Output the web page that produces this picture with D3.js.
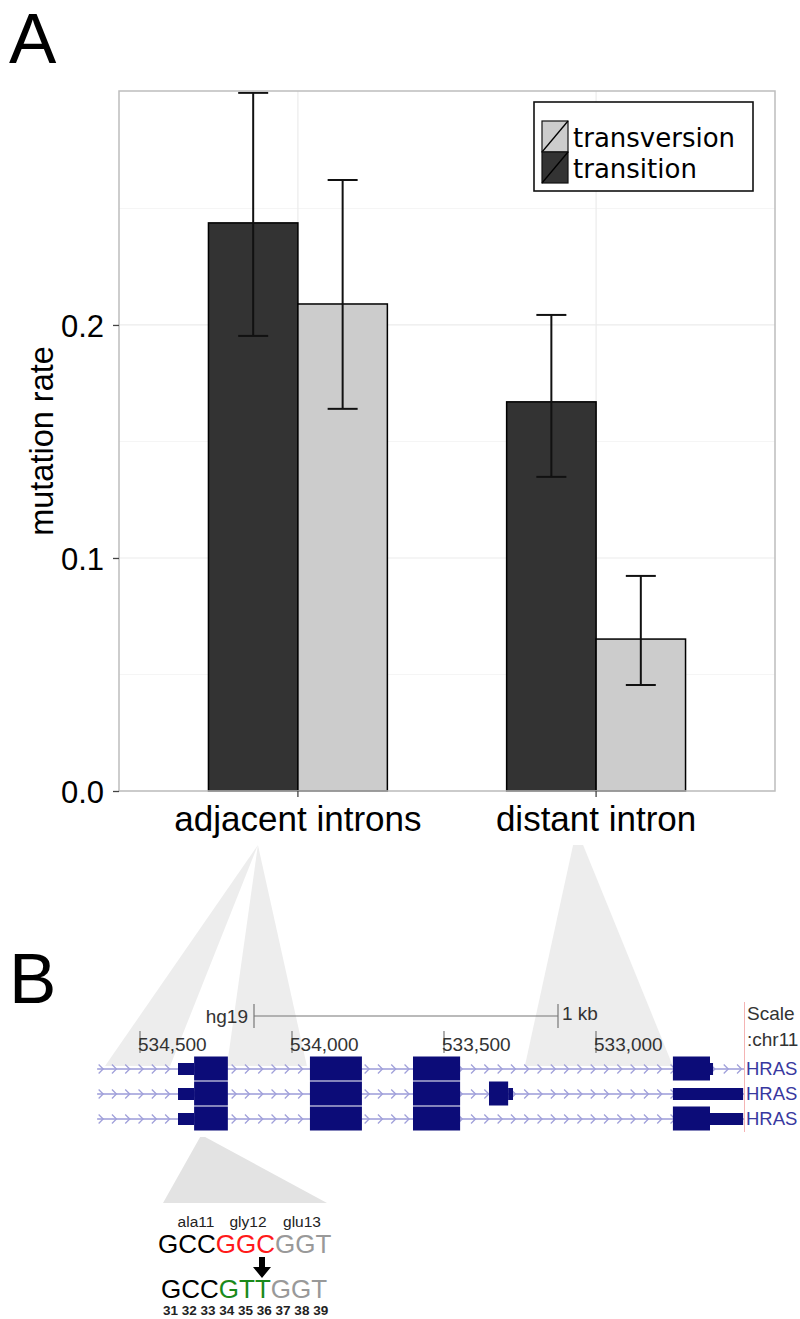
<!DOCTYPE html>
<html lang="en">
<head>
    <meta charset="UTF-8">
    <title>mutation rate</title>
    <script src="https://d3js.org/d3.v7.min.js"></script>
    <style>
        body { margin: 0; background: #fff; }
        text { font-family: "Liberation Sans", Arial, sans-serif; }
    </style>
</head>
<body>
<svg id="chart" width="800" height="1319"></svg>
<script>
    // panel A data
    const categories = ["adjacent introns", "distant intron"];
    const types = ["transition", "transversion"];
    const rate = {
        "transition":   [0.2438, 0.1670],
        "transversion": [0.2090, 0.0652]
    };
    const errLow = {
        "transition":   [0.1953, 0.1348],
        "transversion": [0.1640, 0.0455]
    };
    const errHigh = {
        "transition":   [0.2996, 0.2043],
        "transversion": [0.2622, 0.0923]
    };
    const yTicks = [0.0, 0.1, 0.2];
    const yMinor = [0.05, 0.15, 0.25];
    const legendOrder = ["transversion", "transition"];

    // panel B data (hg19 chr11, reversed strand view)
    const posTicks = [534500, 534000, 533500, 533000];
    const trackRange = [534641, 532513];
    // [start, end, thick]
    const transcripts = [
        [[534375, 534322, 0], [534322, 534211, 1], [533941, 533770, 1], [533602, 533447, 1],
         [532747, 532625, 1], [532625, 532615, 0]],
        [[534375, 534322, 0], [534322, 534211, 1], [533941, 533770, 1], [533602, 533447, 1],
         [533352, 533289, 1], [533289, 533273, 0], [532747, 532516, 0]],
        [[534375, 534322, 0], [534322, 534211, 1], [533941, 533770, 1], [533602, 533447, 1],
         [532747, 532625, 1], [532625, 532516, 0]]
    ];
    const trackNames = ["HRAS", "HRAS", "HRAS"];
    const scaleBar = [534125, 533125];
    // intron regions each bar group points to
    const zooms = [
        {cat: "adjacent introns", dx: -40, range: [534615, 534401]},
        {cat: "adjacent introns", dx: -40, range: [534214, 533951]},
        {cat: "distant intron", dx: -18, range: [533234, 532747]}
    ];

    // codon detail
    const codons = ["ala11", "gly12", "glu13"];
    const refSeq = [["GCC", "#000"], ["GGC", "#ff1a1a"], ["GGT", "#999"]];
    const mutSeq = [["GCC", "#000"], ["GTT", "#1a8a1a"], ["GGT", "#999"]];
    const positions = [31, 32, 33, 34, 35, 36, 37, 38, 39];

    const svg = d3.select("#chart");
    const fill = {"transition": "#333333", "transversion": "#cccccc"};

    // ---------- panel A ----------
    const pLeft = 119, pRight = 775, pTop = 91, pBottom = 791;
    const y = d3.scaleLinear().domain([0, 0.3004]).range([pBottom, pTop]);
    const x = d3.scaleBand().domain(categories).range([pLeft, pRight])
        .paddingInner(0.4).paddingOuter(0.3);
    const xs = d3.scaleBand().domain(types).range([0, x.bandwidth()]);

    const grid = svg.append("g");
    grid.selectAll(".minor").data(yMinor).join("line")
        .attr("x1", pLeft).attr("x2", pRight)
        .attr("y1", d => y(d)).attr("y2", d => y(d))
        .attr("stroke", "#f5f5f5").attr("stroke-width", 1);
    grid.selectAll(".major").data(yTicks).join("line")
        .attr("x1", pLeft).attr("x2", pRight)
        .attr("y1", d => y(d)).attr("y2", d => y(d))
        .attr("stroke", "#ebebeb").attr("stroke-width", 1.2);
    grid.selectAll(".vmajor").data(categories).join("line")
        .attr("x1", d => x(d) + x.bandwidth() / 2).attr("x2", d => x(d) + x.bandwidth() / 2)
        .attr("y1", pTop).attr("y2", pBottom)
        .attr("stroke", "#ebebeb").attr("stroke-width", 1.2);

    const bars = [];
    categories.forEach((c, i) => types.forEach(t => bars.push({
        cat: c, type: t, v: rate[t][i], lo: errLow[t][i], hi: errHigh[t][i]
    })));

    svg.append("g").selectAll("rect").data(bars).join("rect")
        .attr("x", d => x(d.cat) + xs(d.type))
        .attr("y", d => y(d.v))
        .attr("width", xs.bandwidth())
        .attr("height", d => y(0) - y(d.v))
        .attr("fill", d => fill[d.type])
        .attr("stroke", "#000").attr("stroke-width", 1.5);

    const eb = svg.append("g").attr("stroke", "#111").attr("stroke-width", 2);
    bars.forEach(d => {
        const cx = x(d.cat) + xs(d.type) + xs.bandwidth() / 2;
        eb.append("line").attr("x1", cx).attr("x2", cx).attr("y1", y(d.lo)).attr("y2", y(d.hi));
        [d.lo, d.hi].forEach(v => eb.append("line")
            .attr("x1", cx - 15).attr("x2", cx + 15).attr("y1", y(v)).attr("y2", y(v)));
    });

    // panel border
    svg.append("rect").attr("x", pLeft).attr("y", pTop)
        .attr("width", pRight - pLeft).attr("height", pBottom - pTop)
        .attr("fill", "none").attr("stroke", "#bdbdbd").attr("stroke-width", 1.5);

    const yAxis = svg.append("g").attr("transform", `translate(${pLeft},0)`)
        .call(d3.axisLeft(y).tickValues(yTicks).tickFormat(d3.format(".1f")).tickSize(6).tickPadding(9));
    yAxis.select(".domain").remove();
    yAxis.selectAll("line").attr("stroke", "#444").attr("stroke-width", 1.3);
    yAxis.selectAll("text").attr("font-size", 31).attr("fill", "#000").attr("dy", "0.36em")
        .attr("font-family", "Liberation Sans, Arial, sans-serif");

    const xAxis = svg.append("g").attr("transform", `translate(0,${pBottom})`)
        .call(d3.axisBottom(x).tickSize(6).tickPadding(9));
    xAxis.select(".domain").remove();
    xAxis.selectAll("line").attr("stroke", "#444").attr("stroke-width", 1.3);
    xAxis.selectAll("text").attr("font-size", 35).attr("fill", "#000")
        .attr("font-family", "Liberation Sans, Arial, sans-serif");

    svg.append("text").attr("transform", `translate(53,${(pTop + pBottom) / 2}) rotate(-90)`)
        .attr("text-anchor", "middle").attr("font-size", 32.5).text("mutation rate");

    // legend
    const lg = svg.append("g");
    lg.append("rect").attr("x", 534).attr("y", 102).attr("width", 219).attr("height", 89)
        .attr("fill", "#fff").attr("stroke", "#111").attr("stroke-width", 1.6);
    legendOrder.forEach((t, i) => {
        const ky = 121 + i * 31;
        lg.append("rect").attr("x", 542).attr("y", ky).attr("width", 26).attr("height", 31)
            .attr("fill", fill[t]).attr("stroke", "#111").attr("stroke-width", 1.2);
        lg.append("line").attr("x1", 542).attr("y1", ky + 31).attr("x2", 568).attr("y2", ky)
            .attr("stroke", "#000").attr("stroke-width", 1.3);
        lg.append("text").attr("x", 573).attr("y", ky + 26)
            .style("font-family", "'DejaVu Sans', sans-serif").attr("font-size", 26).text(t);
    });

    svg.append("text").attr("x", 9).attr("y", 63).attr("font-size", 71).text("A");
    svg.append("text").attr("x", 9).attr("y", 1003).attr("font-size", 71).text("B");

    // ---------- panel B ----------
    const g = d3.scaleLinear().domain([534500, 533000]).range([140, 596]);
    const rowY = [1069, 1094, 1119];
    const labelY = 845;

    // zoom fans behind the browser image
    const fan = svg.insert("g", ":first-child");
    zooms.forEach(z => {
        const cx = x(z.cat) + x.bandwidth() / 2 + z.dx;
        const w = z.cat === "distant intron" ? 5 : 0;
        const baseY = rowY[0] - 3;
        fan.append("path")
            .attr("d", `M${cx - w},${labelY} L${cx + w},${labelY} L${g(z.range[1])},${baseY} L${g(z.range[0])},${baseY}Z`)
            .attr("fill", "#ededed");
    });

    // scale bar
    const sb = svg.append("g").attr("stroke", "#777").attr("stroke-width", 1.2);
    sb.append("line").attr("x1", g(scaleBar[0])).attr("x2", g(scaleBar[1])).attr("y1", 1016).attr("y2", 1016);
    scaleBar.forEach(p => sb.append("line").attr("x1", g(p)).attr("x2", g(p)).attr("y1", 1004).attr("y2", 1028));
    svg.append("text").attr("x", g(scaleBar[0]) - 6).attr("y", 1023).attr("text-anchor", "end")
        .attr("font-size", 19).attr("fill", "#333").text("hg19");
    svg.append("text").attr("x", g(scaleBar[1]) + 4).attr("y", 1020)
        .attr("font-size", 19).attr("fill", "#333").text("1 kb");

    // position ticks
    const pt = svg.append("g");
    posTicks.forEach(p => {
        pt.append("line").attr("x1", g(p)).attr("x2", g(p)).attr("y1", 1031).attr("y2", 1053)
            .attr("stroke", "#777").attr("stroke-width", 1.2);
        pt.append("text").attr("x", g(p) - 2).attr("y", 1051).attr("font-size", 19)
            .attr("fill", "#333").text(d3.format(",")(p));
    });
    svg.append("text").attr("x", 747).attr("y", 1020).attr("font-size", 19).attr("fill", "#333").text("Scale");
    svg.append("text").attr("x", 747).attr("y", 1046).attr("font-size", 19).attr("fill", "#333").text(":chr11");
    svg.append("line").attr("x1", 744.5).attr("x2", 744.5).attr("y1", 1002).attr("y2", 1132)
        .attr("stroke", "#f4b4b4").attr("stroke-width", 1);

    // transcripts
    const tr = svg.append("g");
    const x0 = g(trackRange[0]), x1 = g(trackRange[1]);
    transcripts.forEach((blocks, i) => {
        const cy = rowY[i];
        tr.append("line").attr("x1", x0).attr("x2", x1).attr("y1", cy).attr("y2", cy)
            .attr("stroke", "#9b9bd8").attr("stroke-width", 1.6);
        const chev = d3.range(x0 + 4, x1 - 2, 13.3);
        tr.selectAll(null).data(chev).join("path")
            .attr("d", d => `M${d - 2.5},${cy - 4.5} L${d + 2},${cy} L${d - 2.5},${cy + 4.5}`)
            .attr("fill", "none").attr("stroke", "#a0a0da").attr("stroke-width", 1.3);
        tr.selectAll(null).data(blocks).join("rect")
            .attr("x", d => g(d[0]))
            .attr("width", d => g(d[1]) - g(d[0]))
            .attr("y", d => d[2] ? cy - 12.5 : cy - 6)
            .attr("height", d => d[2] ? 24 : 12)
            .attr("fill", "#0c0c78");
        tr.append("text").attr("x", 746).attr("y", cy + 6).attr("font-size", 18.5)
            .attr("fill", "#3838a0").text(trackNames[i]);
    });

    // codon zoom
    const exon1 = transcripts[2][1];
    const ex = g(exon1[0]) + 6;
    svg.insert("path", ":first-child")
        .attr("d", `M${ex},1137 L${ex + 5},1137 L327,1203 L163,1203Z`)
        .attr("fill", "#e3e3e3");

    const codonX = [196, 248, 302];
    svg.append("g").selectAll("text").data(codons).join("text")
        .attr("x", (d, i) => codonX[i]).attr("y", 1227).attr("text-anchor", "middle")
        .attr("font-size", 15.5).attr("fill", "#222").text(d => d);

    function seq(parts, sx, sy) {
        const t = svg.append("text").attr("x", sx).attr("y", sy).attr("font-size", 26);
        parts.forEach(p => t.append("tspan").attr("fill", p[1]).text(p[0]));
    }
    seq(refSeq, 158, 1253);
    seq(mutSeq, 161, 1298);

    svg.append("path")
        .attr("d", "M259,1257 L265,1257 L265,1267 L271,1267 L262,1278 L253,1267 L259,1267Z")
        .attr("fill", "#000");

    svg.append("text").attr("x", 163).attr("y", 1315).attr("font-size", 13.5)
        .attr("font-weight", "bold").attr("fill", "#222").text(positions.join(" "));
</script>
</body>
</html>
